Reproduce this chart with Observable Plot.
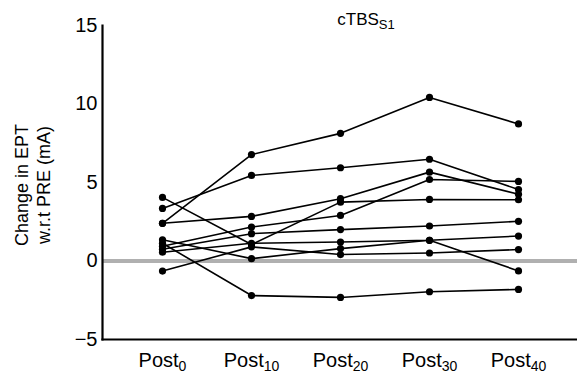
<!DOCTYPE html>
<html><head><meta charset="utf-8">
<script src="https://cdn.jsdelivr.net/npm/d3@7"></script>
<script src="https://cdn.jsdelivr.net/npm/@observablehq/plot@0.6"></script>
<style>body{margin:0;background:#fff;font-family:"Liberation Sans",Arial,sans-serif}</style>
</head><body><div id="chart"></div>
<script>
const categories = ["Post0", "Post10", "Post20", "Post30", "Post40"];
const tickBase = ["Post", "Post", "Post", "Post", "Post"];
const tickSub = ["0", "10", "20", "30", "40"];
const yTicks = [-5, 0, 5, 10, 15];
const titleMain = "cTBS";
const titleSub = "S1";
const yLabelLines = ["Change in EPT", "w.r.t PRE (mA)"];

// one array per subject: Post0, Post10, Post20, Post30, Post40
const subj1  = [2.4, 6.78, 8.13, 10.42, 8.73];
const subj2  = [3.35, 5.45, 5.94, 6.48, 4.55];
const subj3  = [2.4, 2.84, 3.97, 5.66, 4.25];
const subj4  = [4.05, 1.05, 3.75, 3.92, 3.9];
const subj5  = [0.94, 2.16, 2.9, 5.19, 5.07];
const subj6  = [0.75, 1.74, 2.0, 2.23, 2.53];
const subj7  = [0.56, 1.13, 1.21, 1.32, 1.59];
const subj8  = [1.35, 0.15, 0.79, 1.32, -0.63];
const subj9  = [-0.64, 0.9, 0.41, 0.51, 0.73];
const subj10 = [1.13, -2.2, -2.32, -1.96, -1.81];
const subjects = [subj1, subj2, subj3, subj4, subj5, subj6, subj7, subj8, subj9, subj10];

const data = subjects.flatMap((vals, i) => vals.map((v, j) => ({subject: i, time: categories[j], value: v})));

const plot = Plot.plot({
  width: 577, height: 376,
  marginLeft: 102, marginRight: 0, marginTop: 25, marginBottom: 37,
  style: {fontFamily: "Liberation Sans, Arial, sans-serif", fontSize: "20px", color: "#000", background: "#fff", overflow: "visible"},
  x: {type: "point", domain: categories, padding: 0.66, axis: null},
  y: {domain: [-5, 15], axis: null},
  marks: [
    Plot.ruleY([0], {stroke: "#b0b0b0", strokeWidth: 4}),
    Plot.line(data, {x: "time", y: "value", z: "subject", stroke: "#000", strokeWidth: 1.6}),
    Plot.dot(data, {x: "time", y: "value", r: 3.6, fill: "#000"}),
    Plot.frame({anchor: "left", stroke: "#000", strokeWidth: 2.2}),
    Plot.frame({anchor: "bottom", stroke: "#000", strokeWidth: 2.2}),
    Plot.axisY(yTicks, {tickSize: 0, tickPadding: 5, label: null, fontSize: 20}),
    Plot.axisX(categories, {tickSize: 0, tickPadding: 13, label: null, fontSize: 20, tickFormat: (d) => tickBase[categories.indexOf(d)]})
  ]
});
document.getElementById("chart").appendChild(plot);

const svg = d3.select(plot);
// subscripts on x tick labels
svg.selectAll('g[aria-label="x-axis tick label"] text').each(function(d, i) {
  const t = d3.select(this);
  t.text(null);
  t.append("tspan").text(tickBase[i]);
  t.append("tspan").attr("dy", "0.3em").attr("font-size", "14px").text(tickSub[i]);
});
// title
const title = svg.append("text").attr("x", 366).attr("y", 25).attr("text-anchor", "middle")
  .attr("font-size", 17).attr("fill", "#000");
title.append("tspan").text(titleMain);
title.append("tspan").attr("dy", "0.3em").attr("font-size", 13).text(titleSub);
// y label (two lines)
const yl = svg.append("text").attr("transform", "translate(22,185) rotate(-90)")
  .attr("text-anchor", "middle").attr("font-size", 18).attr("fill", "#000");
yLabelLines.forEach((l, i) => yl.append("tspan").attr("x", 0).attr("y", i * 22).attr("dy", "0.35em").text(l));
</script>
</body></html>
